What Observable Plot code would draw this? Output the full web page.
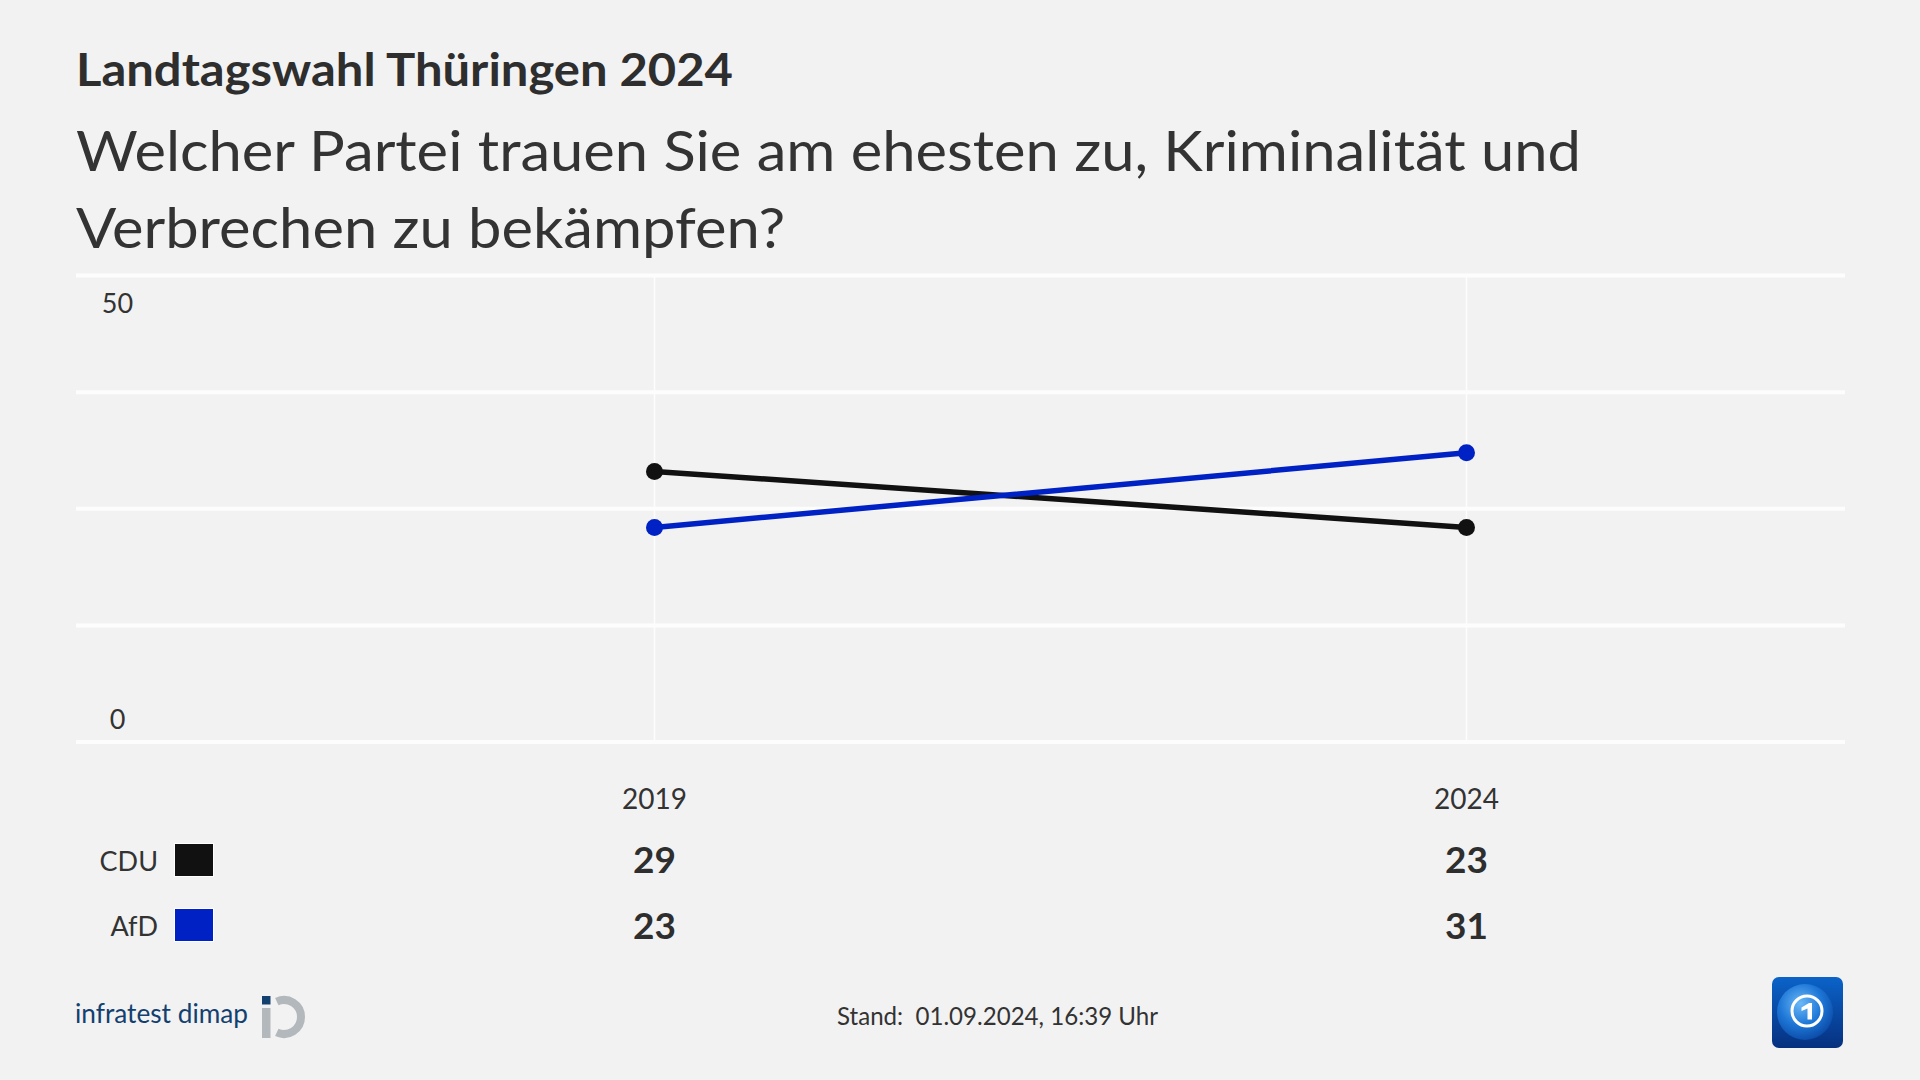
<!DOCTYPE html>
<html><head><meta charset="utf-8">
<script src="https://cdn.jsdelivr.net/npm/d3@7"></script>
<script src="https://cdn.jsdelivr.net/npm/@observablehq/plot@0.6"></script>
<style>
html,body{margin:0;padding:0;background:#f2f2f2;}
#page{position:relative;width:1920px;height:1080px;background:#f2f2f2;overflow:hidden;font-family:Lato,"Noto Sans",sans-serif;color:#333;}
.abs{position:absolute;white-space:nowrap;transform-origin:0 50%;}
#title{left:76px;top:46px;font-size:46px;line-height:46px;font-weight:bold;color:#2e2e2e;}
.sub{left:76px;font-size:57px;line-height:57px;color:#333;}
#sub1{top:121px;}
#sub2{top:198px;}
.leglab{font-size:27px;line-height:27px;color:#333;text-align:right;transform-origin:100% 50%;}
.sw{width:38px;height:32px;border:1.5px solid #fff;}
#stand{left:837px;top:1004px;font-size:24.5px;line-height:24.5px;color:#333;}
#infra{left:75px;top:999px;font-size:27px;line-height:27px;color:#12406f;}
</style>
</head><body>
<div id="page">
  <div id="title" class="abs">Landtagswahl Thüringen 2024</div>
  <div id="sub1" class="abs sub">Welcher Partei trauen Sie am ehesten zu, Kriminalität und</div>
  <div id="sub2" class="abs sub">Verbrechen zu bekämpfen?</div>
  <div id="chart" class="abs" style="left:0;top:250px;"></div>
  <div id="legend"></div>
  <div id="infra" class="abs">infratest dimap</div>
  <svg class="abs" style="left:260px;top:994px" width="50" height="46" viewBox="0 0 50 46">
    <rect x="2" y="2" width="8.5" height="8.5" fill="#12406f"/>
    <rect x="2" y="14" width="8.5" height="30" fill="#b3b8bd"/>
    <path d="M16.8 7.6 A17 17 0 1 1 16.8 38.4" fill="none" stroke="#b3b8bd" stroke-width="8"/>
  </svg>
  <div id="stand" class="abs">Stand:&nbsp; 01.09.2024, 16:39 Uhr</div>
  <svg class="abs" style="left:1772px;top:977px" width="71" height="71" viewBox="0 0 71 71">
    <defs>
      <linearGradient id="ardbg" x1="0" y1="0" x2="0" y2="1"><stop offset="0" stop-color="#0b63c9"/><stop offset="1" stop-color="#06307f"/></linearGradient>
      <radialGradient id="globe" cx="0.42" cy="0.35" r="0.7"><stop offset="0" stop-color="#6ab8f7"/><stop offset="0.55" stop-color="#1d76d6"/><stop offset="1" stop-color="#0a47a3"/></radialGradient>
    </defs>
    <rect width="71" height="71" rx="7" fill="url(#ardbg)"/>
    <circle cx="33" cy="35" r="28" fill="url(#globe)"/>
    <circle cx="35" cy="34" r="15" fill="none" stroke="#fff" stroke-width="3"/>
    <path d="M29.5 30.5 L37 26 L40 26 L40 42.5 L35.5 42.5 L35.5 31.5 L29.5 34 Z" fill="#fff"/>
  </svg>
</div>
<script>
const years = [2019, 2024];
const parties = ["CDU", "AfD"];
const partyColors = ["#111111", "#0022c4"];
const cduValues = [29, 23];
const afdValues = [23, 31];
const gridTicks = [0, 12.5, 25, 37.5, 50];
const yLabelTop = [50];
const yLabelBottom = [0];

const data = [];
years.forEach((yr, i) => {
  data.push({party: "CDU", year: yr, value: cduValues[i]});
  data.push({party: "AfD", year: yr, value: afdValues[i]});
});

const plot = Plot.plot({
  width: 1920, height: 720,
  marginTop: 25, marginBottom: 228.5, marginLeft: 76, marginRight: 75,
  style: {background: "transparent", fontFamily: "Lato, 'Noto Sans', sans-serif", color: "#333", overflow: "visible"},
  x: {type: "point", domain: years, range: [654, 1466], padding: 0, axis: null},
  y: {domain: [0, 50], axis: null},
  color: {domain: parties, range: partyColors},
  marks: [
    Plot.ruleY(gridTicks, {stroke: "#fdfdfd", strokeWidth: 4}),
    Plot.ruleX(years, {stroke: "#fdfdfd", strokeWidth: 1.5}),
    Plot.line(data, {x: "year", y: "value", z: "party", stroke: "party", strokeWidth: 5.5}),
    Plot.dot(data, {x: "year", y: "value", fill: "party", r: 8.5}),
    Plot.text(yLabelTop, {y: d => d, frameAnchor: "left", textAnchor: "middle", lineAnchor: "middle", dx: 41, dy: 29, text: d => String(d), fontSize: 27, fill: "#333"}),
    Plot.text(yLabelBottom, {y: d => d, frameAnchor: "left", textAnchor: "middle", lineAnchor: "middle", dx: 41, dy: -21.5, text: d => String(d), fontSize: 27, fill: "#333"}),
    Plot.text(years, {x: d => d, frameAnchor: "bottom", lineAnchor: "middle", dy: 58.5, text: d => String(d), fontSize: 28, fill: "#333"}),
    Plot.text(data.filter(d => d.party === "CDU"), {x: "year", frameAnchor: "bottom", lineAnchor: "middle", dy: 119.5, text: d => String(d.value), fontSize: 37, fontWeight: "bold", fill: "#2e2e2e"}),
    Plot.text(data.filter(d => d.party === "AfD"), {x: "year", frameAnchor: "bottom", lineAnchor: "middle", dy: 185, text: d => String(d.value), fontSize: 37, fontWeight: "bold", fill: "#2e2e2e"})
  ]
});
document.getElementById("chart").appendChild(plot);

// legend (party label + colour swatch)
const legend = document.getElementById("legend");
const rowTops = [847, 912];
const swTops = [843, 908];
parties.forEach((p, i) => {
  const lab = document.createElement("div");
  lab.className = "abs leglab";
  lab.style.right = (1920 - 158) + "px";
  lab.style.top = rowTops[i] + "px";
  lab.textContent = p;
  legend.appendChild(lab);
  const sw = document.createElement("div");
  sw.className = "abs sw";
  sw.style.left = "174px";
  sw.style.top = swTops[i] + "px";
  sw.style.background = partyColors[i];
  legend.appendChild(sw);
});

function fit(id, target) {
  const el = document.getElementById(id);
  const w = el.getBoundingClientRect().width;
  const s = target / w;
  el.style.transform = `scaleX(${s})`;
  return s;
}
fit("title", 657);
const s = fit("sub1", 1505);
document.getElementById("sub2").style.transform = `scaleX(${s})`;
fit("stand", 321);
fit("infra", 173);
</script>
</body></html>
